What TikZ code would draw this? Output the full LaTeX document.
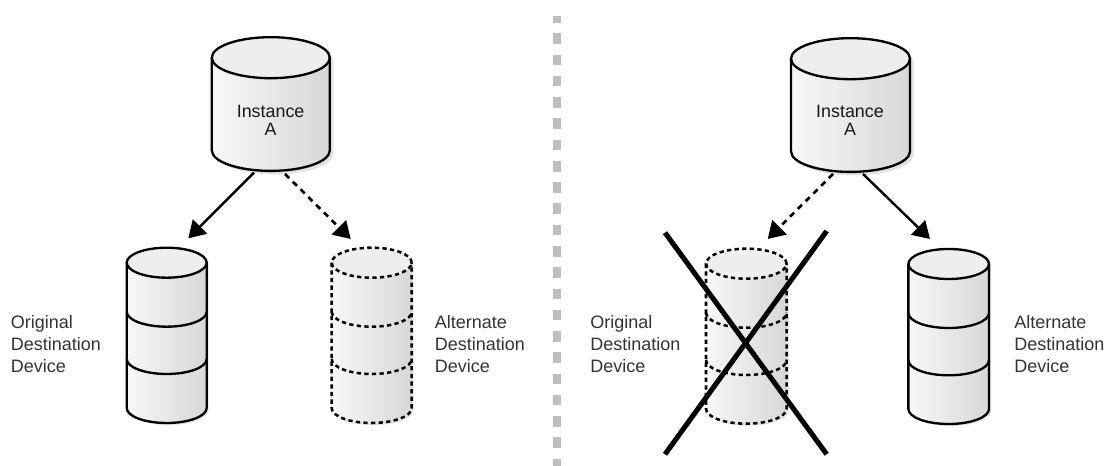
\documentclass[tikz,border=0pt]{standalone}
\usepackage{fontspec}
\setmainfont{Liberation Sans}
\usetikzlibrary{arrows.meta,calc}
\definecolor{topc}{HTML}{EEEEEE}
\definecolor{sideL}{HTML}{F8F8F8}
\definecolor{sideR}{HTML}{D6D7D9}
\definecolor{shadowc}{HTML}{E2E2E2}
\definecolor{divc}{HTML}{BDBEC0}
\definecolor{labelc}{HTML}{333333}
\tikzset{
  cylsolid/.style={draw=black,line width=1.75pt},
  cyldash/.style={draw=black,line width=1.9pt,dash pattern=on 3.2pt off 2.5pt},
  conn/.style={line width=1.8pt,-{Triangle[length=12.5pt,width=15pt]}},
  conndash/.style={conn,line width=2pt,dash pattern=on 4.4pt off 3.8pt},
  cross/.style={line width=3.8pt},
  sidelabel/.style={anchor=west,align=left,inner sep=0pt,text=labelc,font=\fontsize{13.5}{16.5}\selectfont},
  instlabel/.style={align=center,inner sep=0pt,text=black!90,font=\fontsize{13.4}{13.7}\selectfont},
}
% #1 cx, #2 y of top-ellipse centre, #3 rx, #4 ry, #5 height, #6 band offsets, #7 stroke style, #8 shadow offset
\newcommand{\drawcyl}[8]{%
\begin{scope}[shift={(#1,#2)}]
  \fill[shadowc] (-#3+#8,-#8) -- (-#3+#8,-#5-#8) arc (180:360:#3 and #4) -- (#3+#8,-#8) arc (0:180:#3 and #4) -- cycle;
  \shade[left color=sideL,right color=sideR] (-#3,0) -- (-#3,-#5) arc (180:360:#3 and #4) -- (#3,0) arc (0:180:#3 and #4) -- cycle;
  \fill[topc] (0,0) ellipse (#3 and #4);
  \draw[#7] (0,0) ellipse (#3 and #4);
  \draw[#7] (-#3,0) -- (-#3,-#5) arc (180:360:#3 and #4) -- (#3,0);
  \foreach \b in {#6} { \draw[#7] (-#3,-\b) arc (180:360:#3 and #4); }
\end{scope}}
\begin{document}
\begin{tikzpicture}[x=0.75pt,y=0.75pt]
\useasboundingbox (0,0) rectangle (1106,466);
\fill[white] (0,0) rectangle (1106,466);
% divider
\coordinate (divTop) at (556.5,450.3);
\coordinate (divBot) at (556.5,0);
\draw[divc,line width=6pt,dash pattern=on 7.95pt off 8pt,dash phase=2.7pt] (divTop) -- (divBot);
% cylinders
\drawcyl{270.8}{408.3}{59}{20.5}{92.7}{}{cylsolid}{3.5}
\drawcyl{850.5}{407.3}{59.5}{20.5}{92.7}{}{cylsolid}{3.5}
\drawcyl{166.7}{203.3}{40}{15}{145.3}{49,96.3}{cylsolid}{2}
\drawcyl{371.7}{203.3}{40}{15}{145.3}{49,96.3}{cyldash}{2}
\drawcyl{746.3}{202.3}{40.3}{15}{145}{49,96.3}{cyldash}{2}
\drawcyl{948.7}{202}{40.3}{15}{145}{49,96.3}{cylsolid}{2}
% anchors on the cylinders
\coordinate (instAbase) at (270.8,295.3);
\coordinate (instBbase) at (850.5,294);
\coordinate (origAtop) at (166.7,218.5);
\coordinate (altAtop) at (371.7,218.5);
\coordinate (origBtop) at (746.3,217);
\coordinate (altBtop) at (948.7,216.5);
% connectors
\draw[conn] ($(instAbase)+(-16.8,-2)$) -- ($(origAtop)+(21.6,9.2)$);
\draw[conndash] ($(instAbase)+(14.2,-3.3)$) -- ($(altAtop)+(-21,8.5)$);
\draw[conndash] ($(instBbase)+(-17.5,-2)$) -- ($(origBtop)+(21.4,10)$);
\draw[conn] ($(instBbase)+(12.5,-2)$) -- ($(altBtop)+(-18.7,10.5)$);
% cross
\coordinate (crossA) at (665,233.3);
\coordinate (crossB) at (826.7,11.7);
\coordinate (crossC) at (826.7,235);
\coordinate (crossD) at (665,11.7);
\draw[cross] (crossA) -- (crossB);
\draw[cross] (crossC) -- (crossD);
% labels
\node[instlabel] (instA) at (270.6,346) {Instance\\A};
\node[instlabel] (instB) at (850,345.5) {Instance\\A};
\node[sidelabel] (labOrigA) at (10.7,122) {Original\\Destination\\Device};
\node[sidelabel] (labAltA) at (434.5,122) {Alternate\\Destination\\Device};
\node[sidelabel] (labOrigB) at (590,122) {Original\\Destination\\Device};
\node[sidelabel] (labAltB) at (1014,122) {Alternate\\Destination\\Device};
\end{tikzpicture}
\end{document}
